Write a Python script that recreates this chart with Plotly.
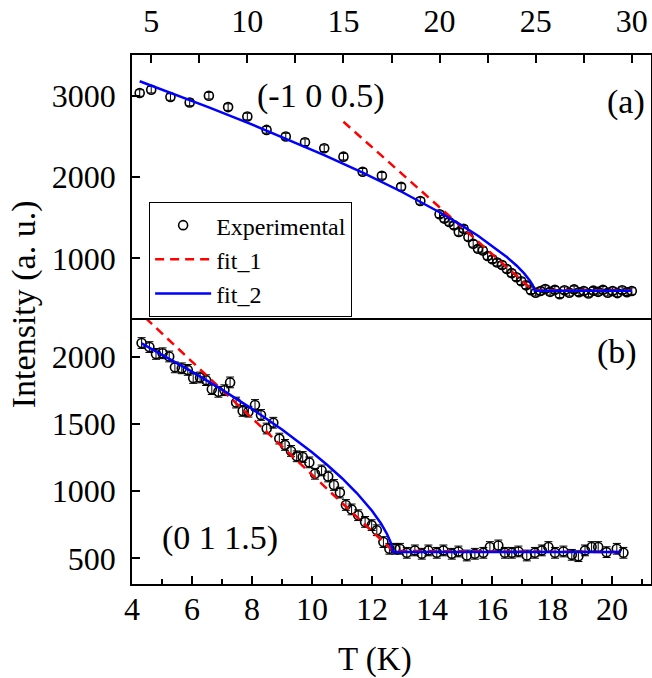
import plotly.graph_objects as go

# ---------------- Panel (a): (-1 0 0.5), top T axis ----------------
T_a = [4.4, 5, 6, 7, 8, 9, 10, 11, 12, 13, 14, 15, 16, 17, 18, 19,
       20.0, 20.25, 20.5, 20.75, 21.0, 21.25, 21.5, 21.75, 22.0, 22.25,
       22.5, 22.75, 23.0, 23.25, 23.5, 23.75, 24.0, 24.25, 24.5, 24.75,
       25.0, 25.25, 25.5, 25.75, 26.0, 26.25, 26.5, 26.75, 27.0, 27.25,
       27.5, 27.75, 28.0, 28.25, 28.5, 28.75, 29.0, 29.25, 29.5, 29.75, 30.0]
I_a = [3033, 3074, 2984, 2917, 3000, 2860, 2744, 2580, 2498, 2428, 2354, 2251, 2066, 2016, 1880, 1707,
       1543, 1490, 1449, 1407, 1325, 1366, 1263, 1181, 1119, 1099,
       1030, 990, 950, 920, 870, 820, 770, 720, 670, 610,
       580, 600, 625, 590, 615, 560, 610, 580, 620, 585,
       600, 570, 605, 590, 615, 580, 600, 575, 610, 585, 600]
ERR_A = 40

fit1_a_T = [15.0, 24.85, 30.0]
fit1_a_I = [2680, 610, 605]

fit2_a_T = [4.4, 6, 8, 10, 12, 14, 16, 18, 20, 21, 22, 23, 23.5, 24, 24.4, 24.7, 24.85, 24.95, 30]
fit2_a_I = [3177, 3037, 2857, 2670, 2475, 2271, 2055, 1823, 1568, 1429, 1279, 1112, 1018, 914, 817, 728, 670, 605, 605]

# ---------------- Panel (b): (0 1 1.5), bottom T axis ----------------
T_b = [4.32, 4.58, 4.80, 5.02, 5.24, 5.43, 5.66, 5.86, 6.04, 6.27, 6.47, 6.66, 6.88, 7.08,
       7.27, 7.47, 7.69, 7.88, 8.10, 8.30, 8.49, 8.71, 8.91, 9.10, 9.30, 9.49, 9.69, 9.91,
       10.10, 10.32, 10.54, 10.73, 10.93, 11.13, 11.32, 11.54, 11.77, 11.99, 12.16, 12.38,
       12.58, 12.77,
       12.93, 13.16, 13.43, 13.66, 13.88, 14.16, 14.38, 14.66, 14.88, 15.16, 15.43, 15.71,
       15.93, 16.21, 16.43, 16.66, 16.88, 17.16, 17.43, 17.66, 17.88, 18.10, 18.38, 18.66,
       18.88, 19.10, 19.32, 19.54, 19.82, 20.16, 20.38]
I_b = [2103, 2073, 2022, 2027, 2003, 1922, 1915, 1903, 1843, 1847, 1827, 1760, 1740, 1752,
       1810, 1660, 1598, 1592, 1642, 1568, 1467, 1510, 1392, 1345, 1300, 1260, 1255, 1215,
       1130, 1155, 1110, 1047, 990, 898, 865, 822, 772, 748, 710, 622,
       572, 572,
       572, 542, 560, 535, 560, 542, 560, 535, 552, 522, 535, 542,
       585, 597, 542, 542, 552, 522, 542, 560, 585, 542, 552, 527,
       517, 560, 585, 585, 547, 572, 542]
ERR_B = 40

fit1_b_T = [4.45, 12.7, 20.3]
fit1_b_I = [2290, 556, 548]

fit2_b_T = [4.32, 5, 6, 7, 8, 9, 10, 10.5, 11, 11.5, 12, 12.3, 12.5, 12.62, 12.7, 20.3]
fit2_b_I = [2100, 2017, 1890, 1756, 1613, 1459, 1290, 1197, 1097, 985, 855, 760, 682, 621, 548, 548]

FONT = "Liberation Serif, Times New Roman, serif"
RED = "#FF0000"
BLUE = "#0000FF"

fig = go.Figure()

marker_style = dict(symbol="circle-open", size=9, color="black", line=dict(width=1.6, color="black"))

# panel (a)
fig.add_trace(go.Scatter(x=T_a, y=I_a, xaxis="x2", yaxis="y2", mode="markers",
                         marker=marker_style, name="Experimental",
                         error_y=dict(type="constant", value=ERR_A, color="black", thickness=1, width=4)))
fig.add_trace(go.Scatter(x=fit1_a_T, y=fit1_a_I, xaxis="x2", yaxis="y2", mode="lines",
                         line=dict(color=RED, width=2.5, dash="9px,6px"), name="fit_1"))
fig.add_trace(go.Scatter(x=fit2_a_T, y=fit2_a_I, xaxis="x2", yaxis="y2", mode="lines",
                         line=dict(color=BLUE, width=2.5), name="fit_2"))

# panel (b)
fig.add_trace(go.Scatter(x=T_b, y=I_b, xaxis="x", yaxis="y", mode="markers",
                         marker=marker_style, showlegend=False,
                         error_y=dict(type="constant", value=ERR_B, color="black", thickness=1, width=4)))
fig.add_trace(go.Scatter(x=fit1_b_T, y=fit1_b_I, xaxis="x", yaxis="y", mode="lines",
                         line=dict(color=RED, width=2.5, dash="9px,6px"), showlegend=False))
fig.add_trace(go.Scatter(x=fit2_b_T, y=fit2_b_I, xaxis="x", yaxis="y", mode="lines",
                         line=dict(color=BLUE, width=2.5), showlegend=False))

axis_common = dict(showline=True, linecolor="black", linewidth=1.5,
                   ticks="inside", tickcolor="black", tickwidth=1.5, ticklen=8,
                   showgrid=False, zeroline=False, automargin=False,
                   tickfont=dict(family=FONT, size=32, color="black"))

SPLIT = 0.503

fig.update_layout(
    width=652, height=678,
    margin=dict(l=132, r=1, t=55, b=94, autoexpand=False),
    paper_bgcolor="white", plot_bgcolor="white",
    font=dict(family=FONT, color="black"),
    xaxis=dict(domain=[0, 1], anchor="y", range=[4, 21.3], dtick=2, tick0=4, mirror=False,
               minor=dict(dtick=1, ticks="inside", ticklen=5, tickcolor="black", tickwidth=1.5),
               ticklabelstandoff=-4, **axis_common),
    yaxis=dict(domain=[0, SPLIT], anchor="x", range=[310, 2290], dtick=500, tick0=0, mirror=True,
               ticklabelstandoff=8, **axis_common),
    xaxis2=dict(domain=[0, 1], anchor="y2", side="top", range=[4, 31], dtick=5, tick0=0, mirror=True,
                minor=dict(dtick=2.5, ticks="inside", ticklen=8, tickcolor="black", tickwidth=1.5),
                ticklabelstandoff=8, **axis_common),
    yaxis2=dict(domain=[SPLIT, 1], anchor="x2", range=[270, 3500], dtick=1000, tick0=0, mirror=True,
                ticklabelstandoff=8, **axis_common),
    showlegend=True,
    legend=dict(x=0.033, y=0.722, xanchor="left", yanchor="top",
                bgcolor="white", bordercolor="black", borderwidth=1,
                font=dict(family=FONT, size=24, color="black"),
                itemwidth=56, tracegroupgap=0),
    annotations=[
        dict(text="(-1 0 0.5)", xref="x2", yref="y2", x=13.83, y=3000, showarrow=False,
             font=dict(family=FONT, size=34, color="black")),
        dict(text="(a)", xref="x2", yref="y2", x=29.7, y=2920, showarrow=False,
             font=dict(family=FONT, size=34, color="black")),
        dict(text="(b)", xref="x", yref="y", x=20.15, y=2037, showarrow=False,
             font=dict(family=FONT, size=34, color="black")),
        dict(text="(0 1 1.5)", xref="x", yref="y", x=6.93, y=650, showarrow=False,
             font=dict(family=FONT, size=34, color="black")),
        dict(text="Intensity (a. u.)", xref="paper", yref="paper", x=-0.208, y=0.529,
             textangle=-90, showarrow=False, xanchor="center", yanchor="middle",
             font=dict(family=FONT, size=34, color="black")),
        dict(text="T (K)", xref="paper", yref="paper", x=0.468, y=-0.1435,
             showarrow=False, xanchor="center", yanchor="middle",
             font=dict(family=FONT, size=33, color="black")),
    ],
)

fig.write_html("out.html", config={"displayModeBar": False},
               post_script="document.body.style.margin='0';document.body.style.overflow='hidden';")
